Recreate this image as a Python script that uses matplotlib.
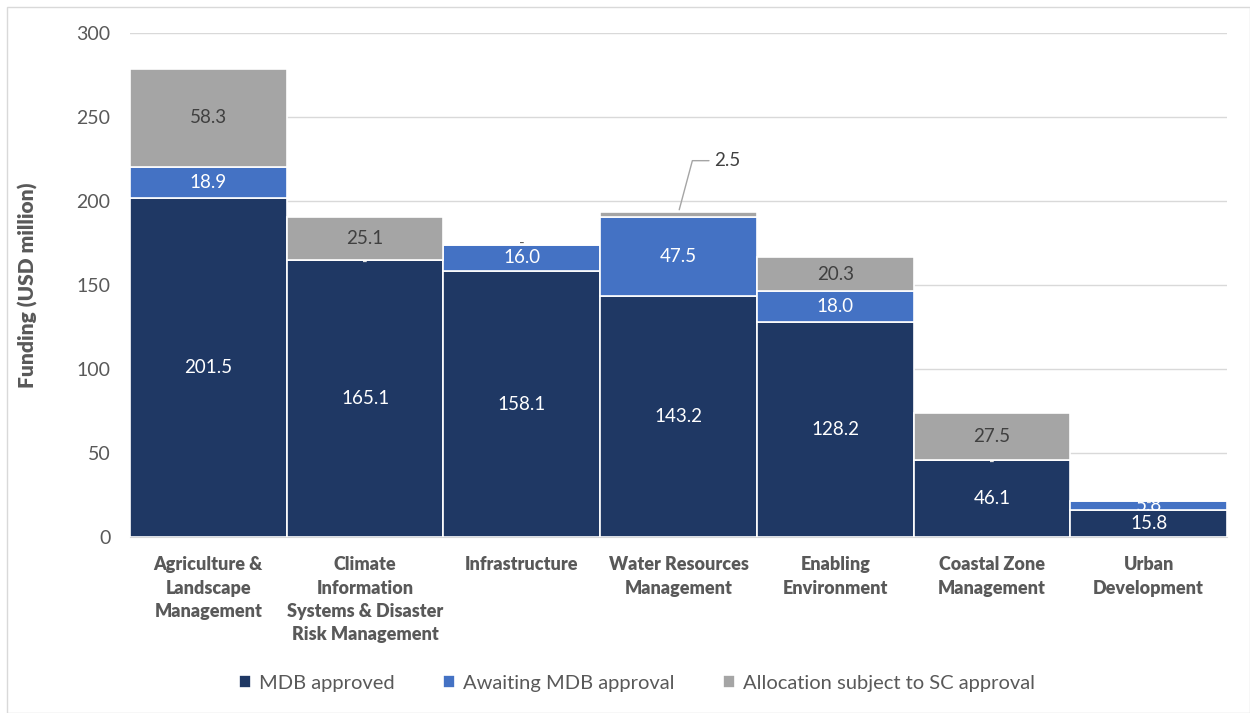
import numpy as np
import matplotlib.pyplot as plt
from matplotlib.patches import Rectangle

plt.rcParams['font.family'] = ['Lato', 'DejaVu Sans']

categories = ['Agriculture &\nLandscape\nManagement',
              'Climate\nInformation\nSystems & Disaster\nRisk Management',
              'Infrastructure',
              'Water Resources\nManagement',
              'Enabling\nEnvironment',
              'Coastal Zone\nManagement',
              'Urban\nDevelopment']
mdb_approved = [201.5, 165.1, 158.1, 143.2, 128.2, 46.1, 15.8]
awaiting = [18.9, 0.0, 16.0, 47.5, 18.0, 0.0, 5.8]
allocation = [58.3, 25.1, 0.0, 2.5, 20.3, 27.5, 0.0]

series = [('MDB approved', mdb_approved, '#1F3864', 'white'),
          ('Awaiting MDB approval', awaiting, '#4472C4', 'white'),
          ('Allocation subject to SC approval', allocation, '#A5A5A5', '#404040')]

fig = plt.figure(figsize=(12.5, 7.13), dpi=100)
ax = fig.add_axes([130 / 1250, 1 - 537 / 713, 1097 / 1250, 504 / 713])

x = np.arange(len(categories))
bottom = np.zeros(len(categories))
for name, vals, col, tcol in series:
    vals = np.array(vals)
    ax.bar(x, vals, bottom=bottom, width=1.0, color=col, edgecolor='white',
           linewidth=1.2, label=name, zorder=3)
    for i, v in enumerate(vals):
        if name.startswith('Allocation') and i == 3:
            continue  # labelled with a leader line below
        if v > 0:
            ax.text(x[i], bottom[i] + v / 2, f'{v:.1f}', ha='center',
                    va='center', color=tcol, fontsize=13.5, zorder=4)
        else:
            # zero segments show a dash, like Excel's accounting format
            on_top = bottom[i] > 170
            ax.text(x[i], bottom[i] + (0.5 if on_top else -2.0), '-',
                    ha='center', va='center',
                    color='#595959' if on_top else '#E8E8E8', fontsize=11,
                    zorder=4)
    bottom += vals

# tiny grey slice on Water Resources: label sits above with a leader line
top = bottom[3]
ax.annotate(f'{allocation[3]:.1f}', xy=(3.0, top), xytext=(3.23, 224),
            ha='left', va='center', fontsize=13.5, color='#404040',
            arrowprops=dict(arrowstyle='-', color='#A5A5A5', lw=1,
                            connectionstyle='angle,angleA=0,angleB=75,rad=0'),
            zorder=5)

ax.set_xlim(-0.5, len(categories) - 0.5)
ax.set_ylim(0, 300)
ax.set_yticks(np.arange(0, 301, 50))
ax.yaxis.grid(True, color='#D9D9D9', lw=1, zorder=0)
ax.set_axisbelow(True)
for s in ['top', 'right', 'left']:
    ax.spines[s].set_visible(False)
ax.spines['bottom'].set_color('#D9D9D9')
ax.tick_params(axis='both', length=0, colors='#595959', labelsize=14)
ax.tick_params(axis='y', pad=14)
ax.set_xticks(x)
ax.set_xticklabels(categories, fontweight='heavy', fontsize=13, color='#595959',
                   va='top', linespacing=1.45)
ax.tick_params(axis='x', pad=14)
ax.set_ylabel('Funding (USD million)', fontsize=15, fontweight='heavy',
              color='#595959', labelpad=28)

ax.legend(loc='center', bbox_to_anchor=(0.462, (537 - 683) / 504),
          ncol=3, frameon=False, fontsize=14.5, handlelength=0.6,
          handleheight=0.6, handletextpad=0.4, columnspacing=2.4,
          labelcolor='#595959')

fig.patches.append(Rectangle((7 / 1250, 0), 1 - 7 / 1250, 1 - 7 / 713,
                             transform=fig.transFigure, fill=False,
                             edgecolor='#D9D9D9', lw=1))

fig.savefig('out.png', dpi=100, facecolor='white')
